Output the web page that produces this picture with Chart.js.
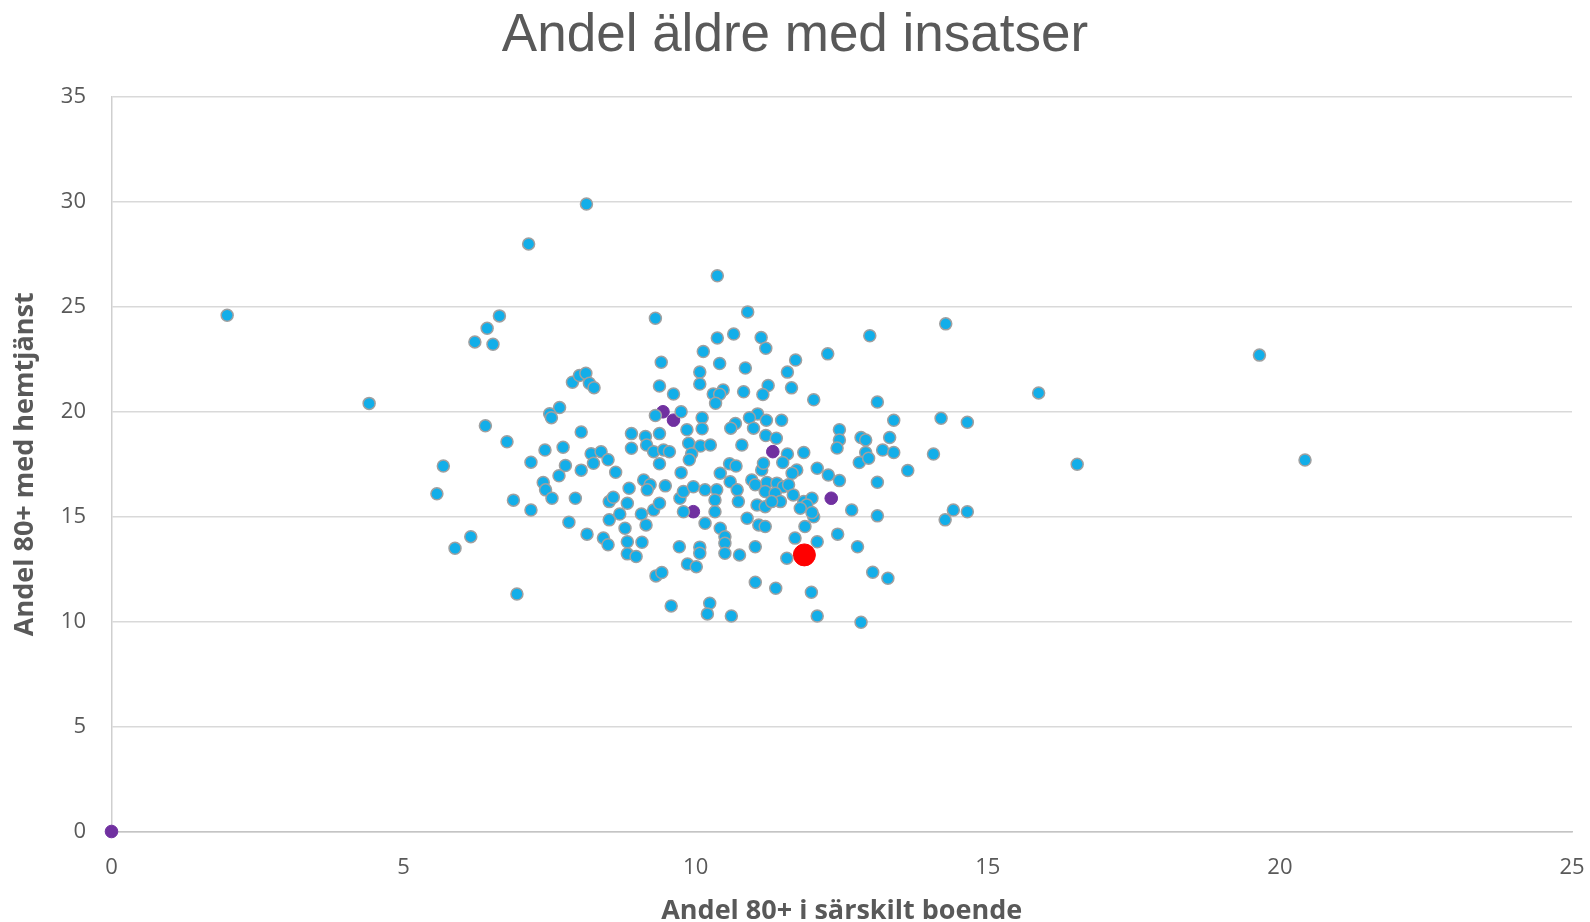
<!DOCTYPE html>
<html lang="sv">
<head>
<meta charset="UTF-8">
<title>Andel äldre med insatser</title>
<script src="https://cdn.jsdelivr.net/npm/chart.js"></script>
<style>
  body { margin: 0; background: #fff; }
  #wrap { width: 1590px; height: 922px; }
</style>
</head>
<body>
<div id="wrap"><canvas id="chart" width="1590" height="922"></canvas></div>
<script>
// Kommuner (blå)
var blueX = [1.98, 4.41, 8.13, 7.14, 19.65, 20.43, 15.87, 16.53,
  6.64, 6.43, 6.22, 6.53, 9.31, 10.13, 9.41, 10.07, 10.07, 7.89, 8.01, 8.12, 8.18, 8.26, 9.38, 9.62, 7.67, 7.5, 7.53, 9.31, 9.75, 10.11, 10.11, 9.85, 6.4, 6.77, 8.04, 8.9, 9.14, 9.38,
  10.37, 10.89, 14.28, 12.98, 10.37, 10.65, 11.12, 11.2, 12.26, 11.71, 10.41, 10.85, 11.57, 11.64, 11.24, 11.15, 10.82, 10.3, 10.47, 10.41, 10.34, 12.02, 13.11, 14.2, 14.65, 13.39, 11.06, 10.92, 11.21, 11.47, 10.68, 10.6, 10.99, 11.2, 11.38, 12.46, 12.46, 12.83, 12.91, 13.32,
  8.9, 9.16, 9.28, 9.45, 9.55, 9.38, 9.88, 10.08, 9.93, 9.89, 7.42, 7.73, 8.21, 8.38, 8.5, 8.25, 5.68, 5.57, 7.18, 7.77, 7.66, 8.04, 8.63, 9.75, 7.39, 7.43, 7.54, 6.88, 7.18, 7.94, 8.86, 9.11, 9.22, 9.17, 9.48, 9.73, 9.79, 9.96, 10.16, 8.52, 8.59, 8.83, 8.7, 8.52, 9.07, 9.28, 9.38, 9.15, 9.79, 10.16, 7.83, 8.14, 8.42, 8.5, 8.79, 8.83, 9.08, 8.83, 8.98, 9.72, 10.07, 10.07, 9.86, 10.01, 6.15, 5.88, 9.32, 9.42, 6.94, 9.58, 10.24, 10.2,
  11.57, 10.25, 10.79, 11.85, 12.42, 12.91, 12.8, 12.96, 13.2, 13.39, 14.07, 13.63, 13.11, 12.08, 12.27, 12.46, 12.67, 13.11, 14.27, 14.41, 14.65, 10.58, 10.69, 10.42, 10.59, 10.71, 10.36, 11.13, 11.16, 11.49, 11.73, 11.65, 10.96, 11.02, 11.22, 11.39, 11.5, 11.59, 11.19, 11.36, 11.05, 11.19, 11.45, 11.3, 11.67, 11.85, 11.99, 11.9, 11.79, 10.73, 10.33, 10.33, 10.42, 10.5, 10.5, 10.88, 11.08, 11.19, 12.02, 11.99, 11.87, 11.7, 12.08, 12.43, 12.77, 11.02, 10.75, 10.5, 11.56, 13.03, 13.29, 11.02, 11.37, 11.98, 10.61, 12.08, 12.83];
var blueY = [24.6, 20.4, 29.9, 28.0, 22.7, 17.7, 20.9, 17.5,
  24.57, 23.98, 23.33, 23.22, 24.46, 22.87, 22.36, 21.89, 21.32, 21.41, 21.73, 21.84, 21.36, 21.15, 21.23, 20.85, 20.2, 19.91, 19.72, 19.82, 20.0, 19.72, 19.19, 19.14, 19.33, 18.57, 19.04, 18.96, 18.82, 18.96,
  26.48, 24.76, 24.19, 23.62, 23.52, 23.71, 23.54, 23.03, 22.76, 22.47, 22.3, 22.09, 21.89, 21.14, 21.25, 20.82, 20.95, 20.85, 21.04, 20.84, 20.41, 20.57, 20.47, 19.69, 19.5, 19.6, 19.9, 19.72, 19.6, 19.6, 19.44, 19.22, 19.22, 18.87, 18.74, 19.14, 18.66, 18.77, 18.66, 18.77,
  18.26, 18.42, 18.1, 18.18, 18.1, 17.52, 18.5, 18.37, 18.0, 17.71, 18.18, 18.31, 18.0, 18.1, 17.71, 17.55, 17.42, 16.09, 17.6, 17.44, 16.95, 17.22, 17.12, 17.1, 16.63, 16.28, 15.88, 15.79, 15.32, 15.88, 16.36, 16.75, 16.52, 16.28, 16.47, 15.88, 16.2, 16.43, 16.28, 15.72, 15.93, 15.64, 15.13, 14.85, 15.13, 15.32, 15.64, 14.61, 15.24, 14.69, 14.74, 14.17, 13.98, 13.66, 14.45, 13.81, 13.78, 13.23, 13.1, 13.57, 13.55, 13.26, 12.75, 12.62, 14.05, 13.5, 12.18, 12.34, 11.32, 10.75, 10.88, 10.37,
  17.99, 18.42, 18.42, 18.06, 18.27, 18.06, 17.58, 17.79, 18.18, 18.06, 17.99, 17.2, 16.64, 17.31, 16.99, 16.72, 15.32, 15.04, 14.85, 15.32, 15.24, 17.52, 17.42, 17.07, 16.67, 16.28, 16.28, 17.23, 17.55, 17.58, 17.23, 17.07, 16.75, 16.52, 16.63, 16.6, 16.43, 16.52, 16.2, 16.12, 15.56, 15.48, 15.72, 15.72, 16.04, 15.72, 15.88, 15.56, 15.4, 15.72, 15.8, 15.24, 14.45, 14.05, 13.74, 14.93, 14.61, 14.53, 15.0, 15.2, 14.53, 13.98, 13.81, 14.17, 13.57, 13.57, 13.18, 13.26, 13.02, 12.35, 12.07, 11.88, 11.59, 11.4, 10.27, 10.27, 9.97];

// Jämförelsegrupp (lila)
var purpleX = [0, 9.44, 9.62, 9.96, 11.32, 12.32];
var purpleY = [0, 20.0, 19.6, 15.24, 18.1, 15.88];

// Vald kommun (röd)
var redX = [11.86];
var redY = [13.18];

var xTicks = [0, 5, 10, 15, 20, 25];
var yTicks = [0, 5, 10, 15, 20, 25, 30, 35];

function toPoints(xs, ys) {
  return xs.map(function (x, i) { return { x: x, y: ys[i] }; });
}

var grey = '#595959';

new Chart(document.getElementById('chart'), {
  type: 'scatter',
  data: {
    datasets: [{
      label: 'Kommuner',
      data: toPoints(blueX, blueY),
      backgroundColor: '#12aee9',
      borderColor: '#a0a0a0',
      borderWidth: 1.5,
      pointRadius: 6,
      clip: false
    }, {
      label: 'Jämförelse',
      data: toPoints(purpleX, purpleY),
      backgroundColor: '#7030a0',
      borderColor: '#7030a0',
      borderWidth: 1,
      pointRadius: 6.3,
      clip: false
    }, {
      label: 'Vald kommun',
      data: toPoints(redX, redY),
      backgroundColor: '#ff0000',
      borderColor: '#ff0000',
      borderWidth: 1,
      pointRadius: 11,
      clip: false
    }]
  },
  options: {
    responsive: false,
    animation: false,
    devicePixelRatio: 1,
    layout: { padding: 0 },
    plugins: {
      legend: { display: false },
      tooltip: { enabled: false },
      title: {
        display: true,
        text: 'Andel äldre med insatser',
        color: grey,
        font: { family: 'Liberation Sans', size: 53, weight: 'normal' },
        padding: { top: 5, bottom: 28.4 }
      }
    },
    scales: {
      x: {
        type: 'linear',
        min: 0,
        max: 25,
        afterBuildTicks: function (scale) {
          scale.ticks = xTicks.map(function (v) { return { value: v }; });
        },
        afterFit: function (scale) {
          scale.height = 90.5;
          scale.paddingLeft = 0;
          scale.paddingRight = 18;
        },
        grid: { display: false, drawTicks: false },
        border: { display: true, color: '#c4c4c4', width: 1.5 },
        ticks: { color: grey, padding: 23, font: { family: 'Open Sans', size: 22 } },
        title: {
          display: true,
          text: 'Andel 80+ i särskilt boende',
          color: grey,
          font: { family: 'Open Sans', size: 27, weight: 'bold', lineHeight: 0.8 },
          padding: { top: 0, bottom: 0 }
        }
      },
      y: {
        type: 'linear',
        min: 0,
        max: 35,
        afterBuildTicks: function (scale) {
          scale.ticks = yTicks.map(function (v) { return { value: v }; });
        },
        afterFit: function (scale) { scale.width = 111.5; },
        grid: { color: '#d9d9d9', lineWidth: 1.5, drawTicks: false },
        border: { display: true, color: '#cfcfcf', width: 1.5 },
        ticks: { color: grey, padding: 25.5, font: { family: 'Open Sans', size: 22 } },
        title: {
          display: true,
          text: 'Andel 80+ med hemtjänst',
          color: grey,
          font: { family: 'Open Sans', size: 27, weight: 'bold' },
          padding: { top: 9, bottom: 0 }
        }
      }
    }
  }
});
</script>
</body>
</html>
